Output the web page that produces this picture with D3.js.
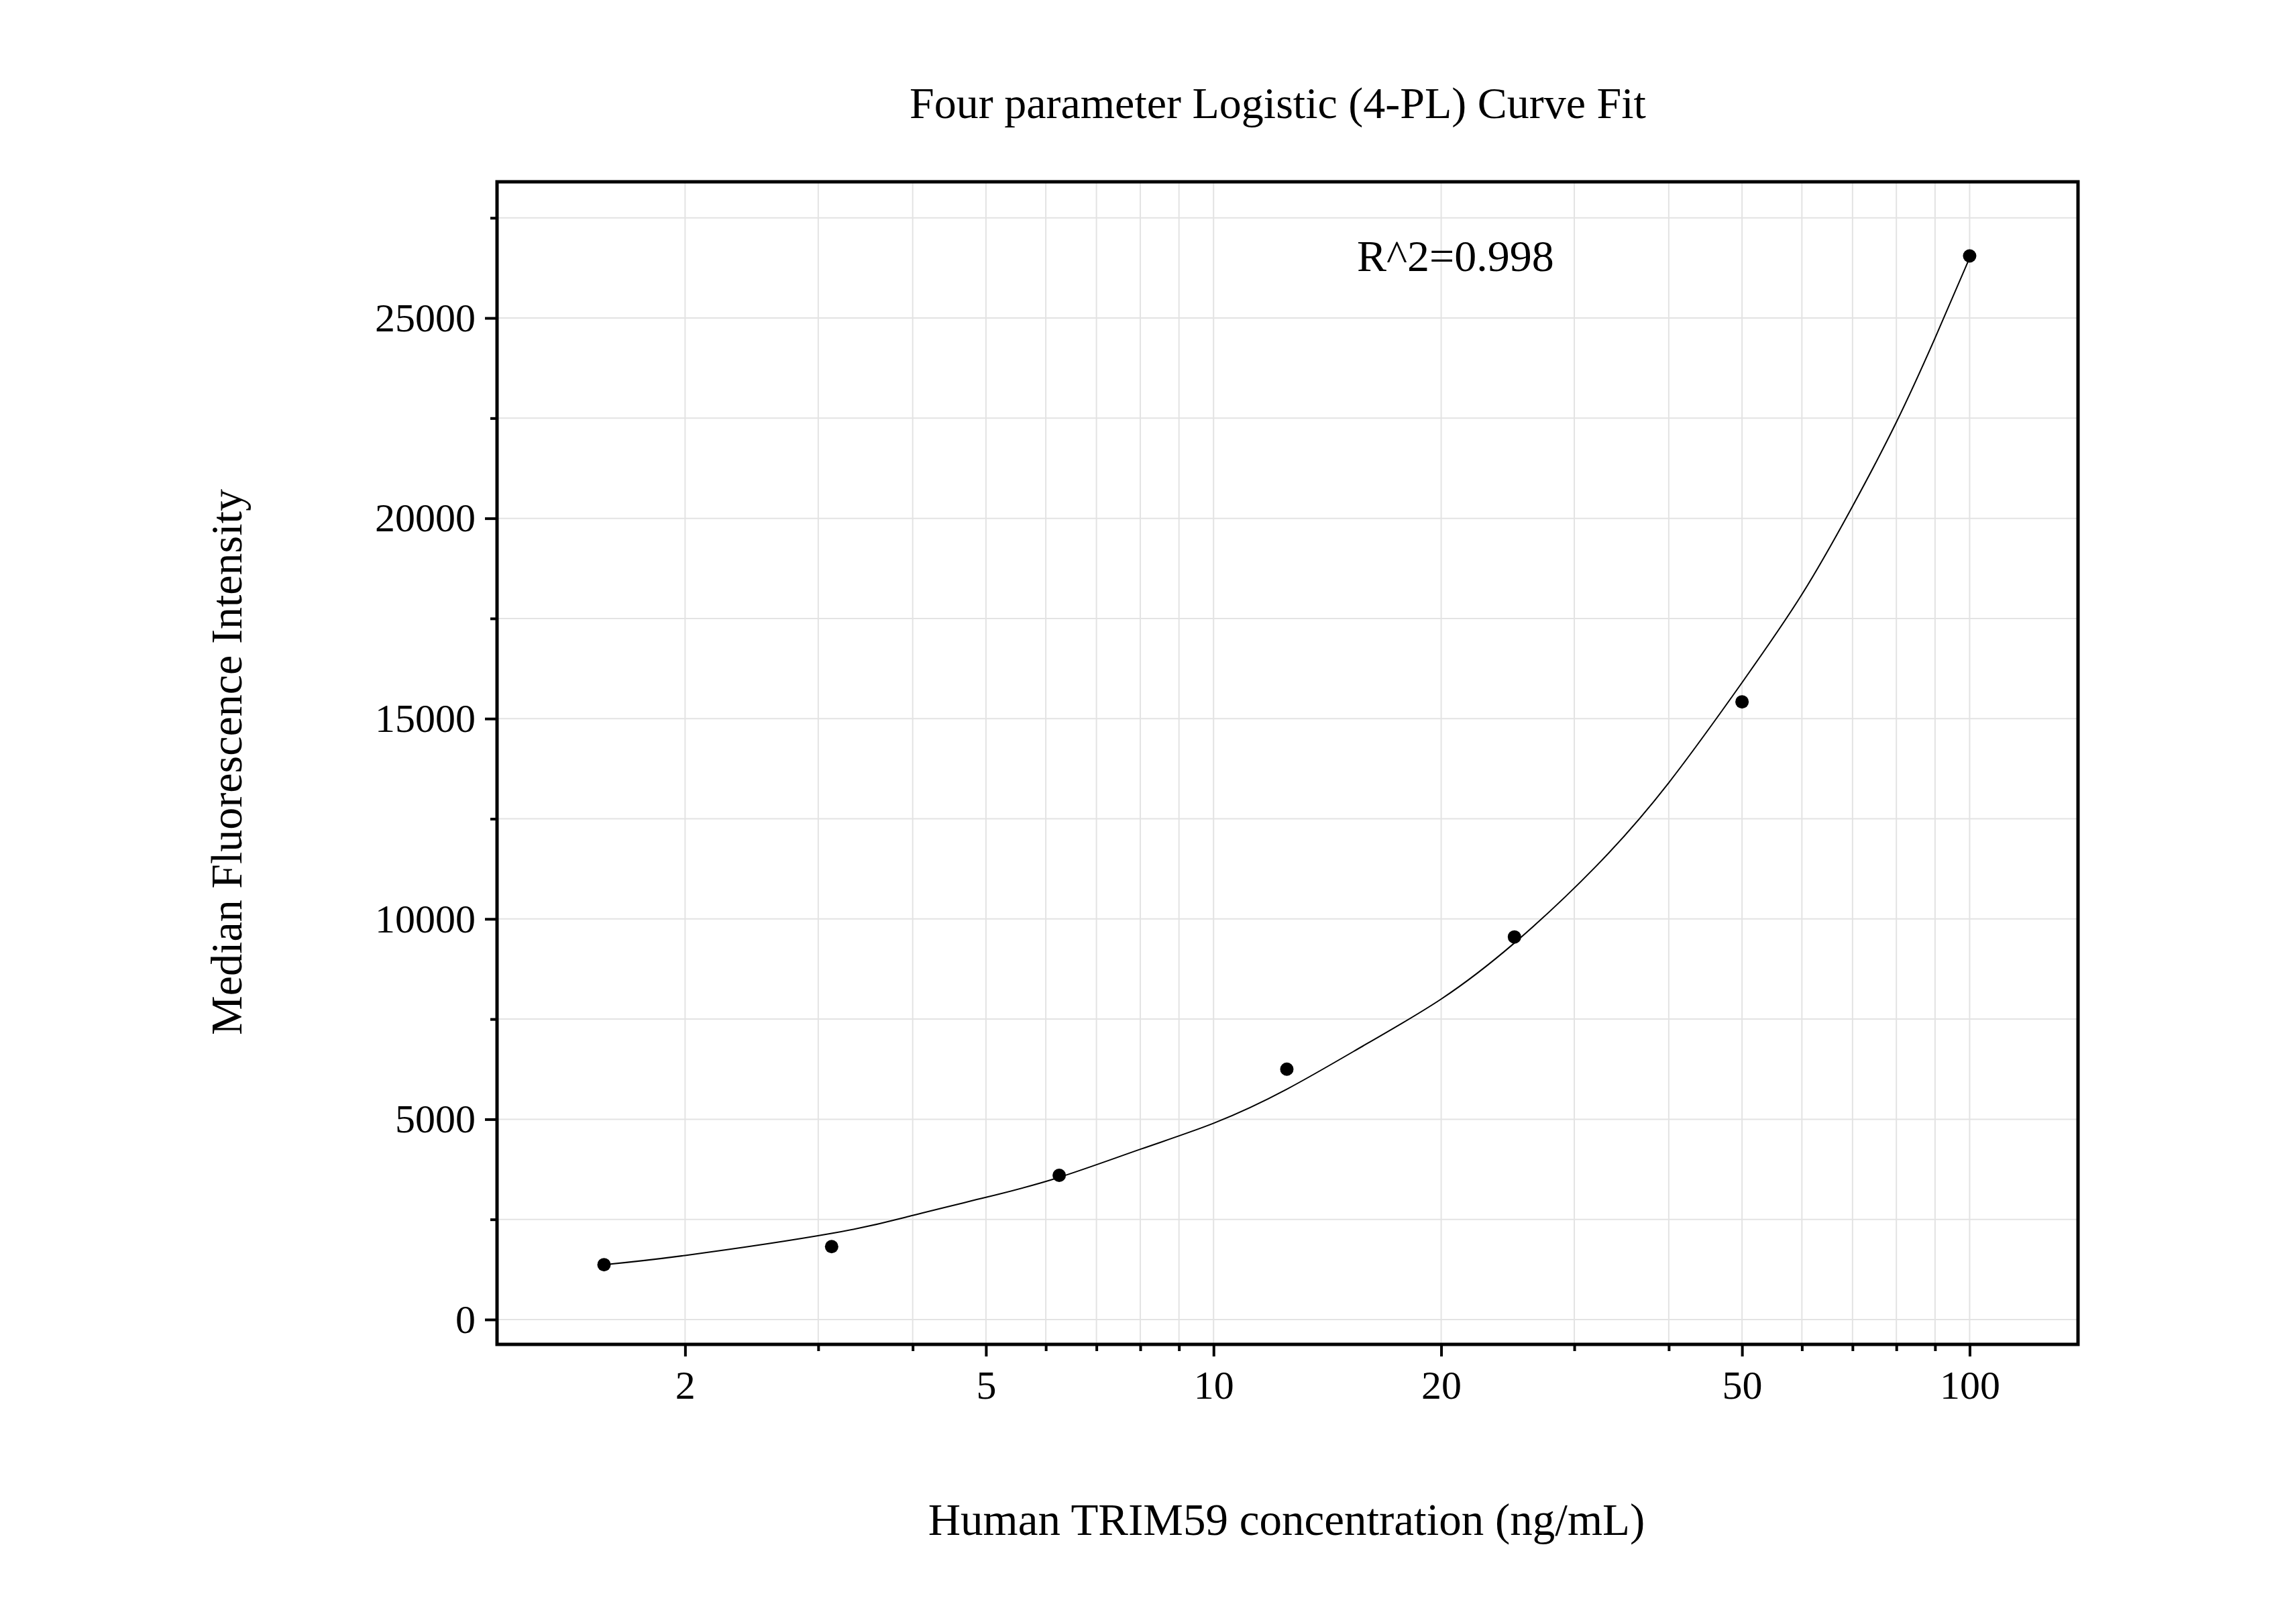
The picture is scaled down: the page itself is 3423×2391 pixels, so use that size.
<!DOCTYPE html>
<html><head><meta charset="utf-8">
<script src="https://cdn.jsdelivr.net/npm/d3@7"></script>
<style>body{margin:0;background:#fff}text{font-family:"Liberation Serif","Times New Roman",serif;fill:#000}</style>
</head><body><svg id="c" width="3423" height="2391"></svg>
<script>
const concentrations=[1.5625,3.125,6.25,12.5,25,50,100];
const mfi=[1370,1820,3600,6250,9550,15420,26550];
const fitX=[1.5625,2,3.125,4,5,6.25,8,10,12.5,16,20,25,32,40,50,60,70,80,90,100];
const fitY=[1370,1600,2150,2600,3050,3550,4250,4900,5750,6900,8000,9400,11300,13400,15900,18100,20300,22400,24500,26500];
const yTicks=[0,5000,10000,15000,20000,25000];
const xTicks=[2,5,10,20,50,100];
const title="Four parameter Logistic (4-PL) Curve Fit";
const xLabel="Human TRIM59 concentration (ng/mL)";
const yLabel="Median Fluorescence Intensity";
const r2="R^2=0.998";

const L=741,R=3098,T=271,B=2004;
const svg=d3.select("#c");
const x=d3.scaleLog().domain([1.128,139.1]).range([L,R]);
const y=d3.scaleLinear().domain([-620,28400]).range([B,T]);
const minorX=[];for(let d=1;d<=100;d*=10)for(let k=1;k<10;k++){const v=k*d;if(v>=1.128&&v<=139.1)minorX.push(v);}
const minorY=d3.range(0,28401,2500);
const g=svg.append("g");
g.selectAll(".gx").data(minorX).join("line").attr("x1",d=>x(d)).attr("x2",d=>x(d)).attr("y1",T).attr("y2",B).attr("stroke","#e3e3e3").attr("stroke-width",2);
g.selectAll(".gy").data(minorY).join("line").attr("y1",d=>y(d)).attr("y2",d=>y(d)).attr("x1",L).attr("x2",R).attr("stroke","#e3e3e3").attr("stroke-width",2);
const ax=svg.append("g").attr("transform",`translate(0,${B})`).call(d3.axisBottom(x).tickValues(xTicks).tickFormat(d3.format("d")).tickSize(18).tickPadding(20));
const axm=svg.append("g").attr("transform",`translate(0,${B})`).call(d3.axisBottom(x).tickValues(minorX.filter(v=>!xTicks.includes(v))).tickFormat("").tickSize(10));
const ay=svg.append("g").attr("transform",`translate(${L},0)`).call(d3.axisLeft(y).tickValues(yTicks).tickFormat(d3.format("d")).tickSize(18).tickPadding(14));
const aym=svg.append("g").attr("transform",`translate(${L},0)`).call(d3.axisLeft(y).tickValues(minorY.filter(v=>v%5000)).tickFormat("").tickSize(10));
[ax,axm,ay,aym].forEach(a=>{a.select(".domain").remove();a.selectAll("line").attr("stroke","#000").attr("stroke-width",4);a.selectAll("text").style("font-size","60px").attr("fill","#000").style("font-family","Liberation Serif");});
svg.append("rect").attr("x",L).attr("y",T).attr("width",R-L).attr("height",B-T).attr("fill","none").attr("stroke","#000").attr("stroke-width",5);
svg.append("path").datum(fitX.map((v,i)=>[v,fitY[i]])).attr("d",d3.line().x(d=>x(d[0])).y(d=>y(d[1])).curve(d3.curveNatural)).attr("fill","none").attr("stroke","#000").attr("stroke-width",2);
svg.selectAll(".pt").data(concentrations).join("circle").attr("cx",d=>x(d)).attr("cy",(d,i)=>y(mfi[i])).attr("r",10).attr("fill","#000");
svg.append("text").attr("x",1905).attr("y",176).attr("text-anchor","middle").style("font-size","66px").text(title);
svg.append("text").attr("x",2023).attr("y",404).style("font-size","66px").text(r2);
svg.append("text").attr("x",1918).attr("y",2288).attr("text-anchor","middle").style("font-size","67px").text(xLabel);
svg.append("text").attr("transform","translate(360,1136) rotate(-90)").attr("text-anchor","middle").style("font-size","66px").text(yLabel);
</script></body></html>
